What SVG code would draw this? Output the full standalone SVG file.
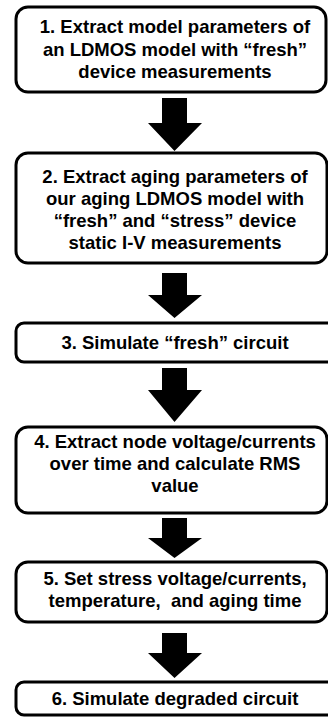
<svg xmlns="http://www.w3.org/2000/svg" width="328" height="717" viewBox="0 0 328 717">
<style>
.box{fill:#fff;stroke:#000;stroke-width:3}
.t{font-family:"Liberation Sans",Arial,sans-serif;font-size:18.5px;font-weight:700;text-anchor:middle;fill:#000}
.arr{fill:#000}
</style>
<rect width="328" height="717" fill="#fff"/>
<g id="connectors">
<polygon class="arr" points="162,98 187,98 187,123 202,123 174.5,151 148,123 162,123"/>
<polygon class="arr" points="162,273 187,273 187,295 202,295 174.5,318 148,295 162,295"/>
<polygon class="arr" points="162,368 187,368 187,390 202,390 174.5,422 148,390 162,390"/>
<polygon class="arr" points="162,518 187,518 187,538 202,538 174.5,558 148,538 162,538"/>
<polygon class="arr" points="162,633 187,633 187,653 202,653 174.5,678 148,653 162,653"/>
</g>
<g id="node1">
<rect class="box" x="16" y="7" width="310" height="85" rx="12"/>
<text class="t" x="175" y="33">1. Extract model parameters of</text>
<text class="t" x="175" y="55.5">an LDMOS model with “fresh”</text>
<text class="t" x="175" y="78">device measurements</text>
</g>
<g id="node2">
<rect class="box" x="16" y="153" width="311" height="110" rx="12"/>
<text class="t" x="175" y="182.5">2. Extract aging parameters of</text>
<text class="t" x="175" y="204.5">our aging LDMOS model with</text>
<text class="t" x="175" y="226.5">“fresh” and “stress” device</text>
<text class="t" x="175" y="248.5">static I-V measurements</text>
</g>
<g id="node3">
<rect class="box" x="16" y="323" width="320" height="39" rx="8"/>
<text class="t" x="175" y="349">3. Simulate “fresh” circuit</text>
</g>
<g id="node4">
<rect class="box" x="16" y="427" width="311" height="86" rx="12"/>
<text class="t" x="175" y="448">4. Extract node voltage/currents</text>
<text class="t" x="175" y="470">over time and calculate RMS</text>
<text class="t" x="175" y="492">value</text>
</g>
<g id="node5">
<rect class="box" x="16" y="562" width="311" height="60" rx="12"/>
<text class="t" x="175" y="585">5. Set stress voltage/currents,</text>
<text class="t" x="175" y="607" xml:space="preserve">temperature,  and aging time</text>
</g>
<g id="node6">
<rect class="box" x="16" y="682" width="320" height="33" rx="8"/>
<text class="t" x="175" y="705">6. Simulate degraded circuit</text>
</g>
</svg>
